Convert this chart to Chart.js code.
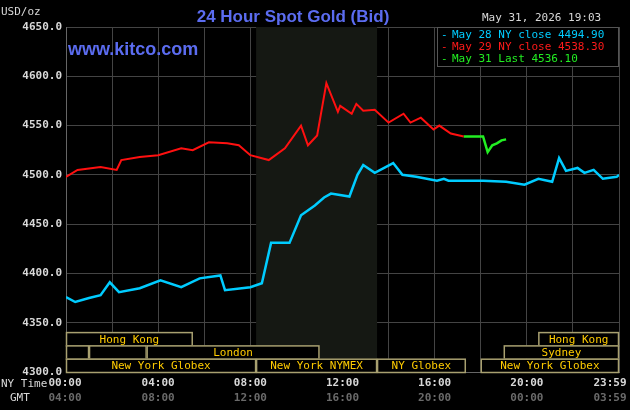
<!DOCTYPE html>
<html>
<head>
<meta charset="UTF-8">
<script src="https://cdn.jsdelivr.net/npm/chart.js"></script>
<style>
  body { margin: 0; background: #000; }
  #wrap { width: 630px; height: 410px; }
</style>
</head>
<body>
<div id="wrap"><canvas id="gold"></canvas></div>
<script>
// hours since 00:00 NY time, price USD/oz
const may28Hours = [0, 0.4, 1.0, 1.5, 1.9, 2.3, 3.2, 4.1, 5.0, 5.8, 6.7, 6.9, 8.0, 8.5, 8.9, 9.7, 10.2, 10.8, 11.2, 11.5, 12.3, 12.65, 12.9, 13.4, 14.2, 14.6, 15.2, 16.1, 16.4, 16.6, 18.1, 19.1, 19.9, 20.5, 21.1, 21.4, 21.7, 22.2, 22.5, 22.9, 23.3, 23.9, 24];
const may28Price = [4376, 4371, 4375, 4378, 4391, 4381, 4385, 4393, 4386, 4395, 4398, 4383, 4386, 4390, 4431, 4431, 4459, 4469, 4477, 4481, 4478, 4500, 4510, 4502, 4512, 4500, 4498, 4494, 4496, 4494, 4494, 4493, 4490, 4496, 4493, 4517, 4504, 4507, 4502, 4505, 4496, 4498, 4500];
const may29Hours = [0, 0.5, 1.5, 2.2, 2.4, 3.2, 4.0, 5.0, 5.5, 6.2, 7.0, 7.5, 8.0, 8.8, 9.5, 10.2, 10.5, 10.9, 11.3, 11.8, 11.9, 12.4, 12.6, 12.9, 13.4, 14.0, 14.65, 14.95, 15.4, 15.95, 16.2, 16.7, 17.26];
const may29Price = [4498, 4505, 4508, 4505, 4515, 4518, 4520, 4527, 4525, 4533, 4532, 4530, 4520, 4515, 4527, 4550, 4530, 4540, 4593, 4564, 4570, 4562, 4572, 4565, 4566, 4553, 4562, 4553, 4558, 4546, 4550, 4542, 4539];
const may31Hours = [17.26, 18.1, 18.3, 18.5, 18.7, 18.9, 19.1];
const may31Price = [4539, 4539, 4523, 4530, 4532, 4535, 4536];

const nyLabels = ['00:00', '04:00', '08:00', '12:00', '16:00', '20:00', '23:59'];
const gmtLabels = ['04:00', '08:00', '12:00', '16:00', '20:00', '00:00', '03:59'];
const legendLines = [
  { text: 'May 28 NY close 4494.90', color: '#00ccff' },
  { text: 'May 29 NY close 4538.30', color: '#ff1a1a' },
  { text: 'May 31 Last 4536.10', color: '#22ee22' }
];
// trading sessions: [row, start hour, end hour, label]
const sessions = [
  [0, 0, 5.5, 'Hong Kong'], [0, 20.5, 24, 'Hong Kong'],
  [1, 0, 1, ''], [1, 1, 3.5, ''], [1, 3.5, 11, 'London'], [1, 19, 24, 'Sydney'],
  [2, 0, 8.25, 'New York Globex'], [2, 8.25, 13.5, 'New York NYMEX'], [2, 13.5, 17.35, 'NY Globex'], [2, 18, 24, 'New York Globex']
];

const mono = 'DejaVu Sans Mono';
const toPts = (xs, ys) => xs.map((x, i) => ({ x: x, y: ys[i] }));

const extras = {
  id: 'extras',
  beforeDatasetsDraw(chart) {
    const { ctx, chartArea: a, scales: { x } } = chart;
    ctx.save();
    // NYMEX shading
    ctx.fillStyle = '#151813';
    ctx.fillRect(x.getPixelForValue(8.25), a.top, x.getPixelForValue(13.5) - x.getPixelForValue(8.25), a.bottom - a.top);
    ctx.restore();
  },
  afterDatasetsDraw(chart) {
    const { ctx, chartArea: a, scales: { x } } = chart;
    ctx.save();
    // session bars
    const rowH = 13.3;
    const baseTop = a.bottom - rowH * 3;
    ctx.font = '11px ' + mono;
    ctx.textAlign = 'center';
    ctx.textBaseline = 'middle';
    sessions.forEach(([r, s, e, t]) => {
      const x0 = x.getPixelForValue(s), x1 = x.getPixelForValue(e);
      const y0 = baseTop + r * rowH;
      ctx.fillStyle = '#000';
      ctx.fillRect(x0, y0, x1 - x0, rowH);
      ctx.strokeStyle = '#a8a070';
      ctx.lineWidth = 1.5;
      ctx.strokeRect(x0 + 0.5, y0 + 0.5, x1 - x0 - 1, rowH);
      if (t) { ctx.fillStyle = '#ffcc00'; ctx.fillText(t, (x0 + x1) / 2, y0 + rowH / 2 + 1); }
    });
    // title & texts
    ctx.textAlign = 'center';
    ctx.textBaseline = 'alphabetic';
    ctx.fillStyle = '#5b6cf0';
    ctx.font = 'bold 17px "Liberation Sans"';
    ctx.fillText('24 Hour Spot Gold (Bid)', 293, 22);
    ctx.textAlign = 'left';
    ctx.font = 'bold 18px "Liberation Sans"';
    ctx.fillText('www.kitco.com', 68, 55);
    ctx.fillStyle = '#d8d8d8';
    ctx.font = '11px ' + mono;
    ctx.fillText('May 31, 2026 19:03', 482, 21);
    ctx.fillText('USD/oz', 1, 15);
    // legend box
    ctx.fillStyle = '#000';
    ctx.fillRect(437, 27, a.right - 437, 40);
    ctx.strokeStyle = '#555';
    ctx.lineWidth = 1;
    ctx.strokeRect(437.5, 27.5, a.right - 438, 39);
    legendLines.forEach((l, i) => {
      ctx.fillStyle = l.color;
      ctx.fillText('-', 441, 38 + i * 12);
      ctx.fillText(l.text, 452, 38 + i * 12);
    });
    // axis captions
    ctx.fillStyle = '#d8d8d8';
    ctx.font = '11px ' + mono;
    ctx.fillText('NY Time', 1, 387);
    ctx.fillText('GMT', 10, 401);
    ctx.font = 'bold 11px ' + mono;
    ctx.textAlign = 'center';
    nyLabels.forEach((g, i) => {
      let px = x.getPixelForValue(i * 4);
      if (i === 0) px -= 1;
      if (i === 6) px -= 9;
      ctx.fillStyle = '#d8d8d8';
      ctx.fillText(g, px, 386);
      ctx.fillStyle = '#6a6a6a';
      ctx.fillText(gmtLabels[i], px, 401);
    });
    ctx.restore();
  }
};

new Chart(document.getElementById('gold'), {
  type: 'line',
  data: {
    datasets: [
      { data: toPts(may28Hours, may28Price), borderColor: '#00ccff', borderWidth: 2.5 },
      { data: toPts(may29Hours, may29Price), borderColor: '#ff1010', borderWidth: 2 },
      { data: toPts(may31Hours, may31Price), borderColor: '#22ee22', borderWidth: 2.5 }
    ]
  },
  options: {
    responsive: true,
    maintainAspectRatio: false,
    animation: false,
    devicePixelRatio: 1,
    elements: { point: { radius: 0 }, line: { tension: 0 } },
    layout: { padding: { top: 27, right: 11, left: 0, bottom: 0 } },
    plugins: { legend: { display: false }, tooltip: { enabled: false } },
    scales: {
      x: {
        type: 'linear', min: 0, max: 24,
        afterFit(s) { s.height = 38; },
        afterBuildTicks(s) { s.ticks = []; for (let h = 0; h <= 24; h += 2) s.ticks.push({ value: h }); },
        grid: { color: '#444', lineWidth: 1, drawTicks: false },
        border: { color: '#666' },
        ticks: { display: false }
      },
      y: {
        min: 4300, max: 4650,
        afterFit(s) { s.width = 66; },
        grid: { color: '#444', lineWidth: 1, drawTicks: false },
        border: { color: '#666' },
        ticks: {
          stepSize: 50, padding: 4,
          color: '#d8d8d8', font: { family: mono, size: 11, weight: 'bold' },
          callback: v => v.toFixed(1)
        }
      }
    }
  },
  plugins: [extras]
});
</script>
</body>
</html>
